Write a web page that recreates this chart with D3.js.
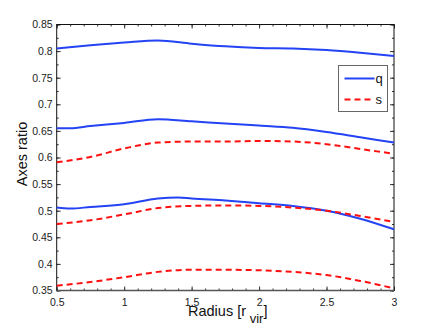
<!DOCTYPE html>
<html>
<head>
<meta charset="utf-8">
<script src="https://cdn.jsdelivr.net/npm/d3@7"></script>
<style>
  body { margin: 0; background: #fff; }
  svg { font-family: "Liberation Sans", Arial, sans-serif; }
</style>
</head>
<body>
<div id="chart"></div>
<script>
const width = 436, height = 328;
const margin = { top: 24.5, right: 42, bottom: 37.5, left: 56.7 };

// radius sample points
const radius = [0.5, 0.75, 1, 1.25, 1.5, 1.75, 2, 2.25, 2.5, 2.75, 3];
const radiusQ2 = [0.5, 0.6, 0.75, 1, 1.25, 1.5, 1.75, 2, 2.25, 2.5, 2.75, 3];
const radiusQ3 = [0.5, 0.6, 0.75, 1, 1.25, 1.4, 1.5, 1.75, 2, 2.25, 2.5, 2.75, 3];

// q series (solid blue)
const q1 = [0.805, 0.811, 0.816, 0.820, 0.814, 0.809, 0.806, 0.805, 0.802, 0.797, 0.791];
const q2 = [0.655, 0.655, 0.659, 0.665, 0.672, 0.668, 0.664, 0.660, 0.656, 0.648, 0.638, 0.628];
const q3 = [0.506, 0.504, 0.507, 0.512, 0.523, 0.525, 0.523, 0.519, 0.514, 0.509, 0.500, 0.485, 0.465];

// s series (dashed red)
const s2 = [0.591, 0.601, 0.617, 0.628, 0.630, 0.630, 0.631, 0.630, 0.625, 0.616, 0.607];
const s3 = [0.475, 0.482, 0.493, 0.505, 0.509, 0.510, 0.509, 0.506, 0.500, 0.490, 0.479];
const s4 = [0.359, 0.366, 0.375, 0.385, 0.389, 0.389, 0.388, 0.385, 0.379, 0.368, 0.354];

const xTicks = [0.5, 1, 1.5, 2, 2.5, 3];
const yTicks = [0.35, 0.4, 0.45, 0.5, 0.55, 0.6, 0.65, 0.7, 0.75, 0.8, 0.85];

const blue = "#2443f5", red = "#ff1010";

const innerWidth = width - margin.left - margin.right;
const innerHeight = height - margin.top - margin.bottom;

const xScale = d3.scaleLinear().domain([0.5, 3]).range([0, innerWidth]);
const yScale = d3.scaleLinear().domain([0.35, 0.85]).range([innerHeight, 0]);

const svg = d3.select("#chart")
  .append("svg")
  .attr("width", width)
  .attr("height", height);

const g = svg.append("g")
  .attr("transform", `translate(${margin.left},${margin.top})`);

// minor + major ticks on all four sides
const xMinor = d3.range(0.5, 3.001, 0.1);
const yMinor = d3.range(0.35, 0.851, 0.025);

g.append("g")
  .attr("transform", `translate(0,${innerHeight})`)
  .call(d3.axisBottom(xScale).tickValues(xTicks).tickSize(-4).tickFormat(d3.format("")).tickPadding(8))
  .call(a => a.select(".domain").remove());
g.append("g").attr("transform", `translate(0,${innerHeight})`)
  .call(d3.axisBottom(xScale).tickValues(xMinor).tickSize(-2).tickFormat(""))
  .call(a => a.select(".domain").remove());
g.append("g")
  .call(d3.axisTop(xScale).tickValues(xTicks).tickSize(-4).tickFormat(""))
  .call(a => a.select(".domain").remove());
g.append("g")
  .call(d3.axisTop(xScale).tickValues(xMinor).tickSize(-2).tickFormat(""))
  .call(a => a.select(".domain").remove());

g.append("g")
  .call(d3.axisLeft(yScale).tickValues(yTicks).tickSize(-4).tickFormat(d3.format("")).tickPadding(4))
  .call(a => a.select(".domain").remove());
g.append("g")
  .call(d3.axisLeft(yScale).tickValues(yMinor).tickSize(-2).tickFormat(""))
  .call(a => a.select(".domain").remove());
g.append("g").attr("transform", `translate(${innerWidth},0)`)
  .call(d3.axisRight(yScale).tickValues(yTicks).tickSize(-4).tickFormat(""))
  .call(a => a.select(".domain").remove());
g.append("g").attr("transform", `translate(${innerWidth},0)`)
  .call(d3.axisRight(yScale).tickValues(yMinor).tickSize(-2).tickFormat(""))
  .call(a => a.select(".domain").remove());

g.selectAll(".tick text")
  .style("font-size", "10.5px")
  .attr("fill", "#222");
g.selectAll(".tick line").attr("stroke", "#333");

// frame
g.append("rect")
  .attr("width", innerWidth)
  .attr("height", innerHeight)
  .attr("fill", "none")
  .attr("stroke", "#111")
  .attr("stroke-width", 1);
g.append("line")
  .attr("x1", 0).attr("x2", innerWidth)
  .attr("y1", innerHeight).attr("y2", innerHeight)
  .attr("stroke", "#555")
  .attr("stroke-width", 1.6);

const line = (xs) => d3.line()
  .x((d, i) => xScale(xs[i]))
  .y(d => yScale(d))
  .curve(d3.curveMonotoneX);

const series = [
  { xs: radius, vals: q1, color: blue, dash: null },
  { xs: radiusQ2, vals: q2, color: blue, dash: null },
  { xs: radiusQ3, vals: q3, color: blue, dash: null },
  { xs: radius, vals: s2, color: red, dash: "6,4" },
  { xs: radius, vals: s3, color: red, dash: "6,4" },
  { xs: radius, vals: s4, color: red, dash: "6,4" }
];

series.forEach(s => {
  g.append("path")
    .attr("d", line(s.xs)(s.vals))
    .attr("fill", "none")
    .attr("stroke", s.color)
    .attr("stroke-width", 2)
    .attr("stroke-dasharray", s.dash);
});

// legend
const legend = svg.append("g").attr("transform", "translate(338.5,65.5)");
legend.append("rect")
  .attr("width", 49)
  .attr("height", 46)
  .attr("fill", "#fff")
  .attr("stroke", "#666")
  .attr("stroke-width", 1);
[{ label: "q", color: blue, dash: null }, { label: "s", color: red, dash: "6,4" }].forEach((d, i) => {
  const y = 13 + i * 21;
  legend.append("line")
    .attr("x1", 6).attr("x2", 36)
    .attr("y1", y).attr("y2", y)
    .attr("stroke", d.color)
    .attr("stroke-width", 2)
    .attr("stroke-dasharray", d.dash);
  legend.append("text")
    .attr("x", 37)
    .attr("y", y + 4)
    .style("font-size", "13px")
    .attr("fill", "#111")
    .text(d.label);
});

// axis labels
svg.append("text")
  .attr("transform", "translate(27,154) rotate(-90)")
  .attr("text-anchor", "middle")
  .style("font-size", "14.5px")
  .attr("fill", "#111")
  .text("Axes ratio");

const xLabel = svg.append("text")
  .attr("x", 188)
  .attr("y", 316)
  .attr("text-anchor", "start")
  .style("font-size", "14.5px")
  .attr("fill", "#111");
xLabel.append("tspan").text("Radius [r");
xLabel.append("tspan").attr("dy", 7).style("font-size", "13px").text(" vir");
xLabel.append("tspan").attr("dy", -7).text("]");
</script>
</body>
</html>
